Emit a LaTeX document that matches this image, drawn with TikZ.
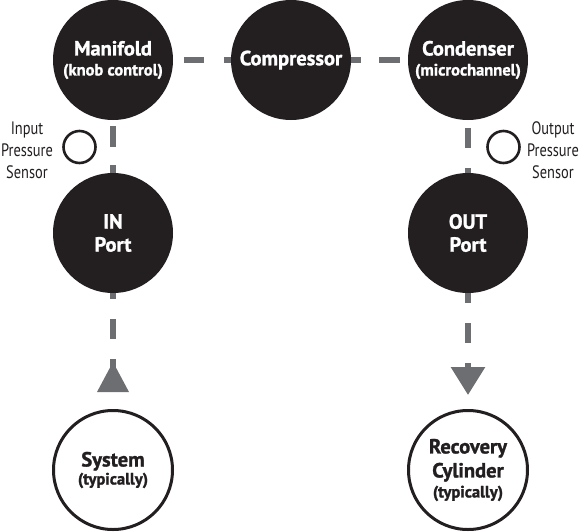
\documentclass[tikz,border=0pt]{standalone}
\usepackage{fontspec}
\setmainfont{PT Sans}[BoldFeatures={FakeBold=1.3}]
\newfontfamily\condfont[FakeStretch=0.8]{PT Sans}
\usetikzlibrary{arrows.meta}
\definecolor{darkfill}{HTML}{231F20}
\definecolor{pipe}{HTML}{6D6E71}
\newcommand\subtxt{\fontsize{16.5}{20}\selectfont}
\begin{document}
\begin{tikzpicture}[x=1pt,y=-1pt,
  unit/.style={circle, fill=darkfill, minimum size=120pt, inner sep=0pt, outer sep=0pt,
    text=white, align=center, font=\bfseries\fontsize{20.5}{20}\selectfont},
  endunit/.style={circle, draw=darkfill, line width=3pt, fill=white, minimum size=119pt,
    inner sep=0pt, outer sep=0pt, text=darkfill, align=center, font=\bfseries\fontsize{20.5}{20}\selectfont},
  sensor/.style={circle, draw=darkfill, line width=2.6pt, minimum size=32pt, inner sep=0pt},
  sensorlabel/.style={align=center, text=darkfill, font=\condfont\fontsize{18}{22}\selectfont},
  pipeline/.style={draw=pipe, line width=6pt},
  tip/.style={fill=pipe}
]
\useasboundingbox (0,0) rectangle (584,531);

\node[unit] (man) at (113,60) {Manifold\\{\subtxt(knob control)}};
\node[unit] (comp) at (291,60) {Compressor};
\node[unit] (cond) at (468,60) {Condenser\\{\subtxt(microchannel)}};
\node[unit] (in) at (113,233) {IN\\[3pt]Port};
\node[unit] (out) at (468,233) {OUT\\[3pt]Port};
\node[endunit] (sys) at (113,470) {System\\[-2pt]{\subtxt(typically)}};
\node[endunit] (rec) at (468,470) {Recovery\\[4pt]Cylinder\\{\subtxt(typically)}};

\node[sensor] (isens) at (79.5,147) {};
\node[sensor] (osens) at (503.5,147) {};
\node[sensorlabel] (ilab) at (27,150) {Input\\Pressure\\Sensor};
\node[sensorlabel] (olab) at (553,150) {Output\\Pressure\\Sensor};

\draw[pipeline, dash pattern=on 20pt off 20pt, dash phase=29pt] (man) -- (comp);
\draw[pipeline, dash pattern=on 21pt off 18pt, dash phase=11pt] (comp) -- (cond);
\draw[pipeline, dash pattern=on 21pt off 18pt, dash phase=33pt] (man) -- (in);
\draw[pipeline, dash pattern=on 20pt off 20pt, dash phase=32pt] (cond) -- (out);

\coordinate (inbase) at (113,392);
\draw[pipeline, dash pattern=on 20pt off 20pt, dash phase=14pt] (in) -- (inbase);
\fill[tip] ([xshift=-16pt]inbase) -- ([xshift=16pt]inbase) -- ([yshift=30pt]inbase) -- cycle;

\coordinate (outtip) at (468,395);
\draw[pipeline, dash pattern=on 20pt off 20pt, dash phase=10pt,
  -{Triangle[width=33pt,length=28pt]}] (out) -- (outtip);
\end{tikzpicture}
\end{document}
